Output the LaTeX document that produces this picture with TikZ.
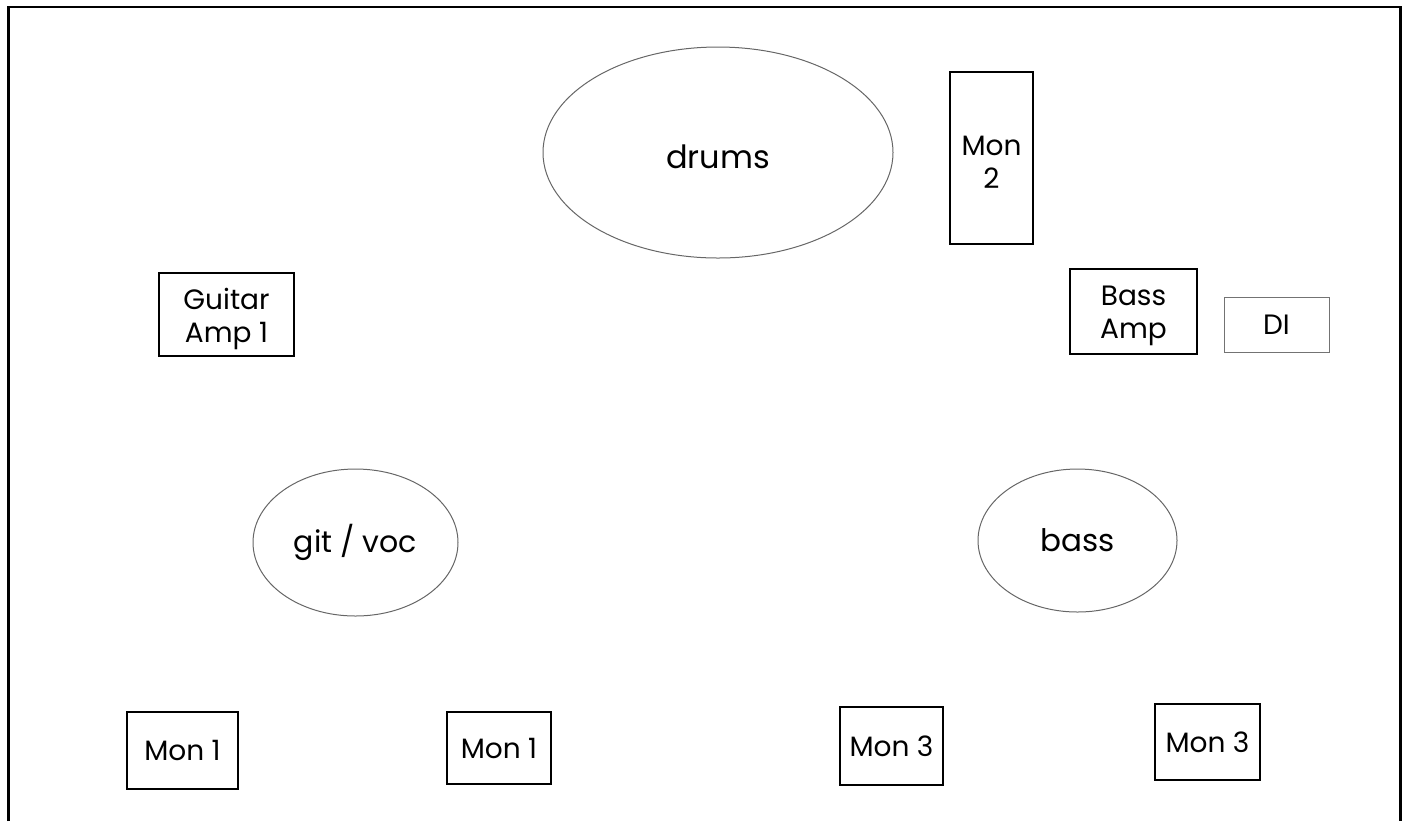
\documentclass[tikz,border=0pt]{standalone}
\usepackage{fontspec}
\setmainfont{Poppins}
\usetikzlibrary{shapes.geometric}
\begin{document}
\begin{tikzpicture}[x=0.5pt,y=-0.5pt,
  frameline/.style={line width=1.4pt,black},
  boxnode/.style={draw=black,line width=1pt,rectangle,inner sep=0pt,align=center,font=\fontsize{14}{16.5}\selectfont},
  thinbox/.style={draw=black!55,line width=0.5pt,rectangle,inner sep=0pt,align=center,font=\fontsize{14}{16.5}\selectfont},
  zone/.style={draw=black!60,line width=0.5pt,ellipse,inner sep=0pt,align=center}]
\useasboundingbox (0,0) rectangle (1407,821);
\coordinate (fbl) at (8.5,821);
\coordinate (ftl) at (8.5,7);
\coordinate (ftr) at (1400.5,7);
\coordinate (fbr) at (1400.5,821);
\draw[frameline] (fbl) -- (ftl) -- (ftr) -- (fbr);
\node[zone,minimum width=175pt,minimum height=105.5pt] (drums) at (718,152.5) {};
\node (drumst) at ([yshift=-2pt]drums.center) [inner sep=0pt,font=\fontsize{16}{18}\selectfont] {drums};
\node[boxnode,minimum width=41.5pt,minimum height=86pt] (mon2) at (991.5,158) {};
\node (mon2t) at ([yshift=-2pt]mon2.center) [align=center,inner sep=0pt,font=\fontsize{14}{16.5}\selectfont] {Mon\\2};
\node[boxnode,minimum width=67.5pt,minimum height=41.5pt] (gamp) at (226.5,314.5) {};
\node (gampt) at ([yshift=-2pt]gamp.center) [align=center,inner sep=0pt,font=\fontsize{14}{16.5}\selectfont] {Guitar\\Amp 1};
\node[boxnode,minimum width=63.5pt,minimum height=42.5pt] (bamp) at (1133.5,311.5) {};
\node (bampt) at ([yshift=-2pt]bamp.center) [align=center,inner sep=0pt,font=\fontsize{14}{16.5}\selectfont] {Bass\\Amp};
\node[thinbox,minimum width=52.5pt,minimum height=27.5pt] (di) at (1276.5,324.5) {DI};
\node[zone,minimum width=102.5pt,minimum height=73.5pt,font=\fontsize{15}{17}\selectfont] (gitvoc) at (355.5,542.5) {git / voc};
\node[zone,minimum width=99.5pt,minimum height=71.5pt,font=\fontsize{15.5}{17}\selectfont] (bass) at (1077.5,540.5) {bass};
\node[boxnode,minimum width=55.5pt,minimum height=38.5pt] (mon1a) at (182.5,750.5) {Mon 1};
\node[boxnode,minimum width=52pt,minimum height=36pt] (mon1b) at (499,748) {Mon 1};
\node[boxnode,minimum width=51.5pt,minimum height=39pt] (mon3a) at (891.5,746) {Mon 3};
\node[boxnode,minimum width=52.5pt,minimum height=38pt] (mon3b) at (1207.5,742) {Mon 3};
\end{tikzpicture}
\end{document}
